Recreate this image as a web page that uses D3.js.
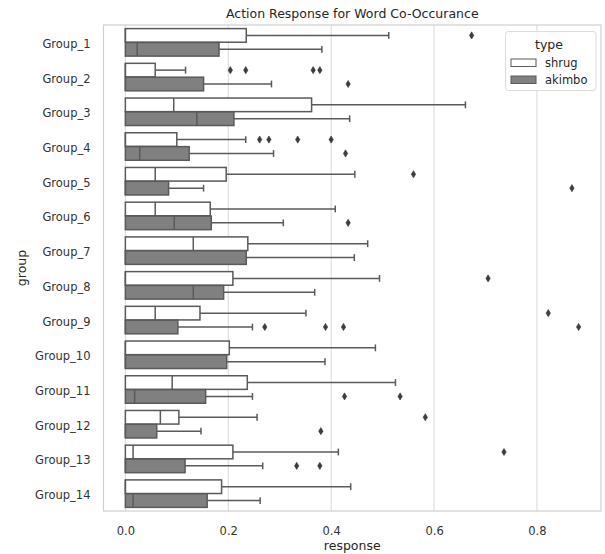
<!DOCTYPE html>
<html>
<head>
<meta charset="utf-8">
<script src="https://cdn.jsdelivr.net/npm/d3@7"></script>
<style>
  body { margin: 0; background: #fff; }
  svg { display: block; font-family: "DejaVu Sans", sans-serif; }
</style>
</head>
<body>
<svg id="chart" width="605" height="554"></svg>
<script>
const groups = ["Group_1","Group_2","Group_3","Group_4","Group_5","Group_6","Group_7",
                "Group_8","Group_9","Group_10","Group_11","Group_12","Group_13","Group_14"];
const types = ["shrug", "akimbo"];
const xTicks = [0.0, 0.2, 0.4, 0.6, 0.8];

// shrug series
const shrugQ1      = [0,0,0,0,0,0,0,0,0,0,0,0,0,0];
const shrugMedian  = [0,0,0.094,0,0.058,0.058,0.132,0,0.058,0,0.091,0.068,0.015,0];
const shrugQ3      = [0.235,0.058,0.362,0.100,0.196,0.165,0.238,0.209,0.145,0.202,0.237,0.104,0.209,0.187];
const shrugWhisker = [0.512,0.117,0.661,0.234,0.446,0.408,0.471,0.494,0.351,0.486,0.525,0.256,0.414,0.438];
const shrugOutliers = [[0.673],[0.204,0.234,0.365,0.378],[],[0.261,0.279,0.335,0.400],[0.560],[],[],
                       [0.705],[0.822],[],[],[0.583],[0.736],[]];

// akimbo series
const akimboQ1      = [0,0,0,0,0,0,0,0,0,0,0,0,0,0];
const akimboMedian  = [0.023,0,0.139,0.028,0,0.095,0,0.132,0,0,0.018,0,0,0.015];
const akimboQ3      = [0.182,0.152,0.211,0.124,0.084,0.167,0.235,0.191,0.102,0.197,0.156,0.061,0.116,0.159];
const akimboWhisker = [0.382,0.284,0.436,0.288,0.152,0.307,0.445,0.368,0.247,0.388,0.247,0.147,0.267,0.262];
const akimboOutliers = [[],[0.433],[],[0.428],[0.868],[0.433],[],[],[0.271,0.389,0.424,0.881],[],
                        [0.426,0.534],[0.380],[0.333,0.378],[]];

const fills = { shrug: "#ffffff", akimbo: "#808080" };
const edge = "#5a5a5a";

const series = {
  shrug:  { q1: shrugQ1, med: shrugMedian, q3: shrugQ3, wh: shrugWhisker, out: shrugOutliers },
  akimbo: { q1: akimboQ1, med: akimboMedian, q3: akimboQ3, wh: akimboWhisker, out: akimboOutliers }
};

const svg = d3.select("#chart");
const L = 103.5, R = 601, T = 25, B = 511;

const x = d3.scaleLinear().domain([-0.0425, 0.9245]).range([L, R]);
const y = d3.scaleBand().domain(groups).range([T, B]).paddingInner(0).paddingOuter(0);
const hue = d3.scaleBand().domain(types).range([0, y.bandwidth() * 0.8]);
const off = y.bandwidth() * 0.1;

// grid
svg.append("g").selectAll("line").data(xTicks).join("line")
  .attr("x1", d => x(d)).attr("x2", d => x(d))
  .attr("y1", T).attr("y2", B)
  .attr("stroke", "#d9d9d9").attr("stroke-width", 1);

// frame
svg.append("rect").attr("x", L).attr("y", T).attr("width", R - L).attr("height", B - T)
  .attr("fill", "none").attr("stroke", "#cfcfcf").attr("stroke-width", 1.2);

// x tick labels
const xAxis = d3.axisBottom(x).tickValues(xTicks).tickFormat(d3.format(".1f")).tickSize(0).tickPadding(0);
const gx = svg.append("g").attr("transform", `translate(0,${B})`).call(xAxis);
gx.select(".domain").remove();
gx.selectAll("text").attr("font-size", 11.5).attr("fill", "#333").attr("dy", null).attr("y", 24)
  .attr("font-family", "DejaVu Sans");

// y tick labels
const yAxis = d3.axisLeft(y).tickSize(0).tickPadding(0);
const gy = svg.append("g").attr("transform", `translate(${L},0)`).call(yAxis);
gy.select(".domain").remove();
gy.selectAll("text").attr("font-size", 11.5).attr("fill", "#333").attr("x", -13).attr("dy", "0.48em")
  .attr("font-family", "DejaVu Sans");

// boxes
const bh = hue.bandwidth() * 0.98;
types.forEach(t => {
  const s = series[t];
  const g = svg.append("g");
  groups.forEach((grp, i) => {
    const yc = y(grp) + off + hue(t) + hue.bandwidth() / 2;
    // whisker
    g.append("line").attr("x1", x(s.q3[i])).attr("x2", x(s.wh[i])).attr("y1", yc).attr("y2", yc)
      .attr("stroke", edge).attr("stroke-width", 1.5);
    g.append("line").attr("x1", x(s.wh[i])).attr("x2", x(s.wh[i]))
      .attr("y1", yc - bh / 4).attr("y2", yc + bh / 4)
      .attr("stroke", edge).attr("stroke-width", 1.5);
    // box
    g.append("rect").attr("x", x(s.q1[i])).attr("y", yc - bh / 2)
      .attr("width", x(s.q3[i]) - x(s.q1[i])).attr("height", bh)
      .attr("fill", fills[t]).attr("stroke", edge).attr("stroke-width", 1.5);
    // median
    g.append("line").attr("x1", x(s.med[i])).attr("x2", x(s.med[i]))
      .attr("y1", yc - bh / 2).attr("y2", yc + bh / 2)
      .attr("stroke", edge).attr("stroke-width", 1.5);
    // outliers
    g.selectAll(null).data(s.out[i]).join("path")
      .attr("d", "M0,-3.6L2.2,0L0,3.6L-2.2,0Z")
      .attr("transform", d => `translate(${x(d)},${yc})`)
      .attr("fill", "#3c3c3c").attr("stroke", "#3c3c3c").attr("stroke-width", 0.6);
  });
});

// title and axis labels
svg.append("text").attr("x", (L + R) / 2).attr("y", 18).attr("text-anchor", "middle")
  .attr("font-size", 12.5).attr("fill", "#262626").text("Action Response for Word Co-Occurance");
svg.append("text").attr("x", (L + R) / 2).attr("y", 550).attr("text-anchor", "middle")
  .attr("font-size", 12.5).attr("fill", "#262626").text("response");
svg.append("text").attr("transform", `translate(26,${(T + B) / 2}) rotate(-90)`)
  .attr("text-anchor", "middle").attr("font-size", 12.5).attr("fill", "#262626").text("group");

// legend
const lg = svg.append("g");
lg.append("rect").attr("x", 505.5).attr("y", 31.5).attr("width", 90.5).attr("height", 59).attr("rx", 3)
  .attr("fill", "#ffffff").attr("fill-opacity", 0.8).attr("stroke", "#dcdcdc").attr("stroke-width", 1);
lg.append("text").attr("x", 549).attr("y", 48.5).attr("text-anchor", "middle")
  .attr("font-size", 12.5).attr("fill", "#262626").text("type");
types.forEach((t, i) => {
  const yy = 59 + i * 17;
  lg.append("rect").attr("x", 511).attr("y", yy).attr("width", 25).attr("height", 7.5)
    .attr("fill", fills[t]).attr("stroke", edge).attr("stroke-width", 1);
  lg.append("text").attr("x", 545).attr("y", yy + 8).attr("font-size", 11.5).attr("fill", "#262626").text(t);
});
</script>
</body>
</html>
